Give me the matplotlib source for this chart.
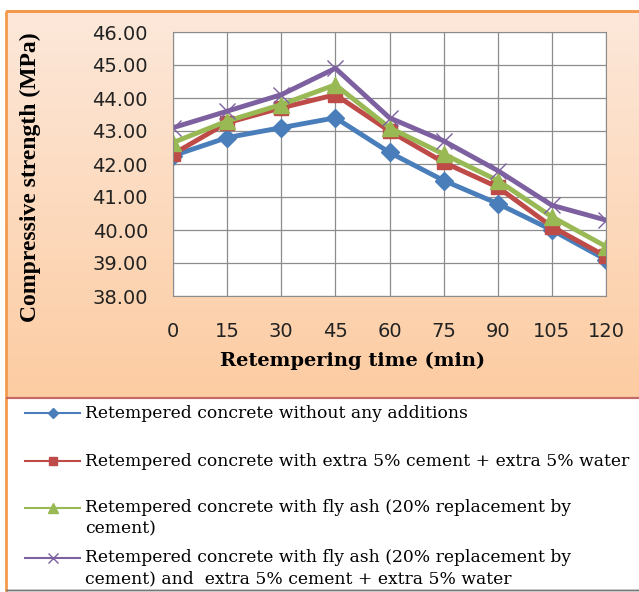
import numpy as np
import matplotlib.pyplot as plt
from matplotlib.patches import Rectangle
from matplotlib.lines import Line2D

# retempering time (min)
tider = ["0", "15", "30", "45", "60", "75", "90", "105", "120"]

# compressive strength (MPa)
uten_tilsetning = [42.25, 42.8, 43.1, 43.4, 42.35, 41.5, 40.8, 40.0, 39.1]
ekstra_sement = [42.3, 43.25, 43.7, 44.1, 43.0, 42.05, 41.3, 40.1, 39.2]
flyveaske = [42.65, 43.3, 43.8, 44.4, 43.1, 42.3, 41.5, 40.4, 39.5]
flyveaske_ekstra = [43.1, 43.6, 44.1, 44.9, 43.4, 42.7, 41.8, 40.75, 40.3]

etiketter = [
    ["Retempered concrete without any additions"],
    ["Retempered concrete with extra 5% cement + extra 5% water"],
    ["Retempered concrete with fly ash (20% replacement by", "cement)"],
    ["Retempered concrete with fly ash (20% replacement by",
     "cement) and  extra 5% cement + extra 5% water"],
]

W, H = 639, 592
fig = plt.figure(figsize=(W / 100, H / 100), dpi=100)

# peach gradient background behind the chart
bg = fig.add_axes([6 / W, 1 - 398 / H, 1 - 6 / W, 387 / H])
grad = np.linspace(0, 1, 256).reshape(-1, 1)
topp = np.array([253, 232, 218]) / 255
bunn = np.array([252, 204, 162]) / 255
bilde = topp + (bunn - topp) * grad[:, :, None]
bg.imshow(bilde, aspect="auto", extent=[0, 1, 0, 1], origin="upper")
bg.set_axis_off()

ax = fig.add_axes([173 / W, 1 - 296 / H, 433 / W, 264 / H])
ax.set_facecolor("white")
x = np.arange(len(tider))

linjer = []
linjer += ax.plot(x, uten_tilsetning, color="#4a7ebb", lw=3.5, marker="D", ms=9)
linjer += ax.plot(x, ekstra_sement, color="#be4b48", lw=3.5, marker="s", ms=10)
linjer += ax.plot(x, flyveaske, color="#98b954", lw=3.5, marker="^", ms=12)
linjer += ax.plot(x, flyveaske_ekstra, color="#7d60a0", lw=3.5, marker="x", ms=12, mew=1)

ax.set_xlim(0, 8)
ax.set_ylim(38, 46)
ax.set_xticks(x)
ax.set_xticklabels(tider)
ax.set_yticks(np.arange(38, 46.5, 1))
ax.set_yticklabels([f"{v:.2f}" for v in np.arange(38, 46.5, 1)])
ax.grid(True, color="#8c8c8c", lw=0.9)
ax.set_axisbelow(True)
for s in ax.spines.values():
    s.set_color("#8c8c8c")
ax.tick_params(length=0, labelsize=14, colors="#222222")
ax.tick_params(axis="y", pad=18)
ax.tick_params(axis="x", pad=19)
for t in ax.get_xticklabels() + ax.get_yticklabels():
    t.set_fontfamily("DejaVu Sans")

ax.set_xlabel("Retempering time (min)", fontfamily="DejaVu Serif", fontweight="bold",
              fontsize=14)
ax.xaxis.set_label_coords(0.415, -0.212)
ax.set_ylabel("Compressive strength (MPa)", fontfamily="Liberation Serif", fontweight="bold",
              fontsize=17)
ax.yaxis.set_label_coords(-0.305, 0.45)

# borders
fig.add_artist(Rectangle((6 / W, 1 - 11 / H), 1, 0, transform=fig.transFigure,
                         edgecolor="#f39a4c", linewidth=2, fill=False))
fig.add_artist(Rectangle((6 / W, 0), 0, 1 - 11 / H, transform=fig.transFigure,
                         edgecolor="#f39a4c", linewidth=2, fill=False))
fig.add_artist(Rectangle((6 / W, 1 - 398 / H), 1, 0, transform=fig.transFigure,
                         edgecolor="#c46a66", linewidth=1.5, fill=False))
fig.add_artist(Rectangle((6 / W, 2 / H), 1, 0, transform=fig.transFigure,
                         edgecolor="#777777", linewidth=1, fill=False))

# legend at the bottom, Excel style (marker line on the first text line)
rad_y = [413, 461, 508, 558]
for linje, tekst, yy in zip(linjer, etiketter, rad_y):
    fy = 1 - yy / H
    fig.add_artist(Line2D([25 / W, 80 / W], [fy, fy], transform=fig.transFigure,
                          color=linje.get_color(), lw=1.5))
    fig.add_artist(Line2D([52.5 / W], [fy], transform=fig.transFigure,
                          color=linje.get_color(), marker=linje.get_marker(),
                          ms=linje.get_markersize() * 0.6, mew=1))
    for k, del_tekst in enumerate(tekst):
        fig.text(85 / W, 1 - (yy + 21 * k) / H, del_tekst, fontfamily="DejaVu Serif",
                 fontsize=12.3, va="center", ha="left", color="black")

fig.savefig("out.png", dpi=100)
